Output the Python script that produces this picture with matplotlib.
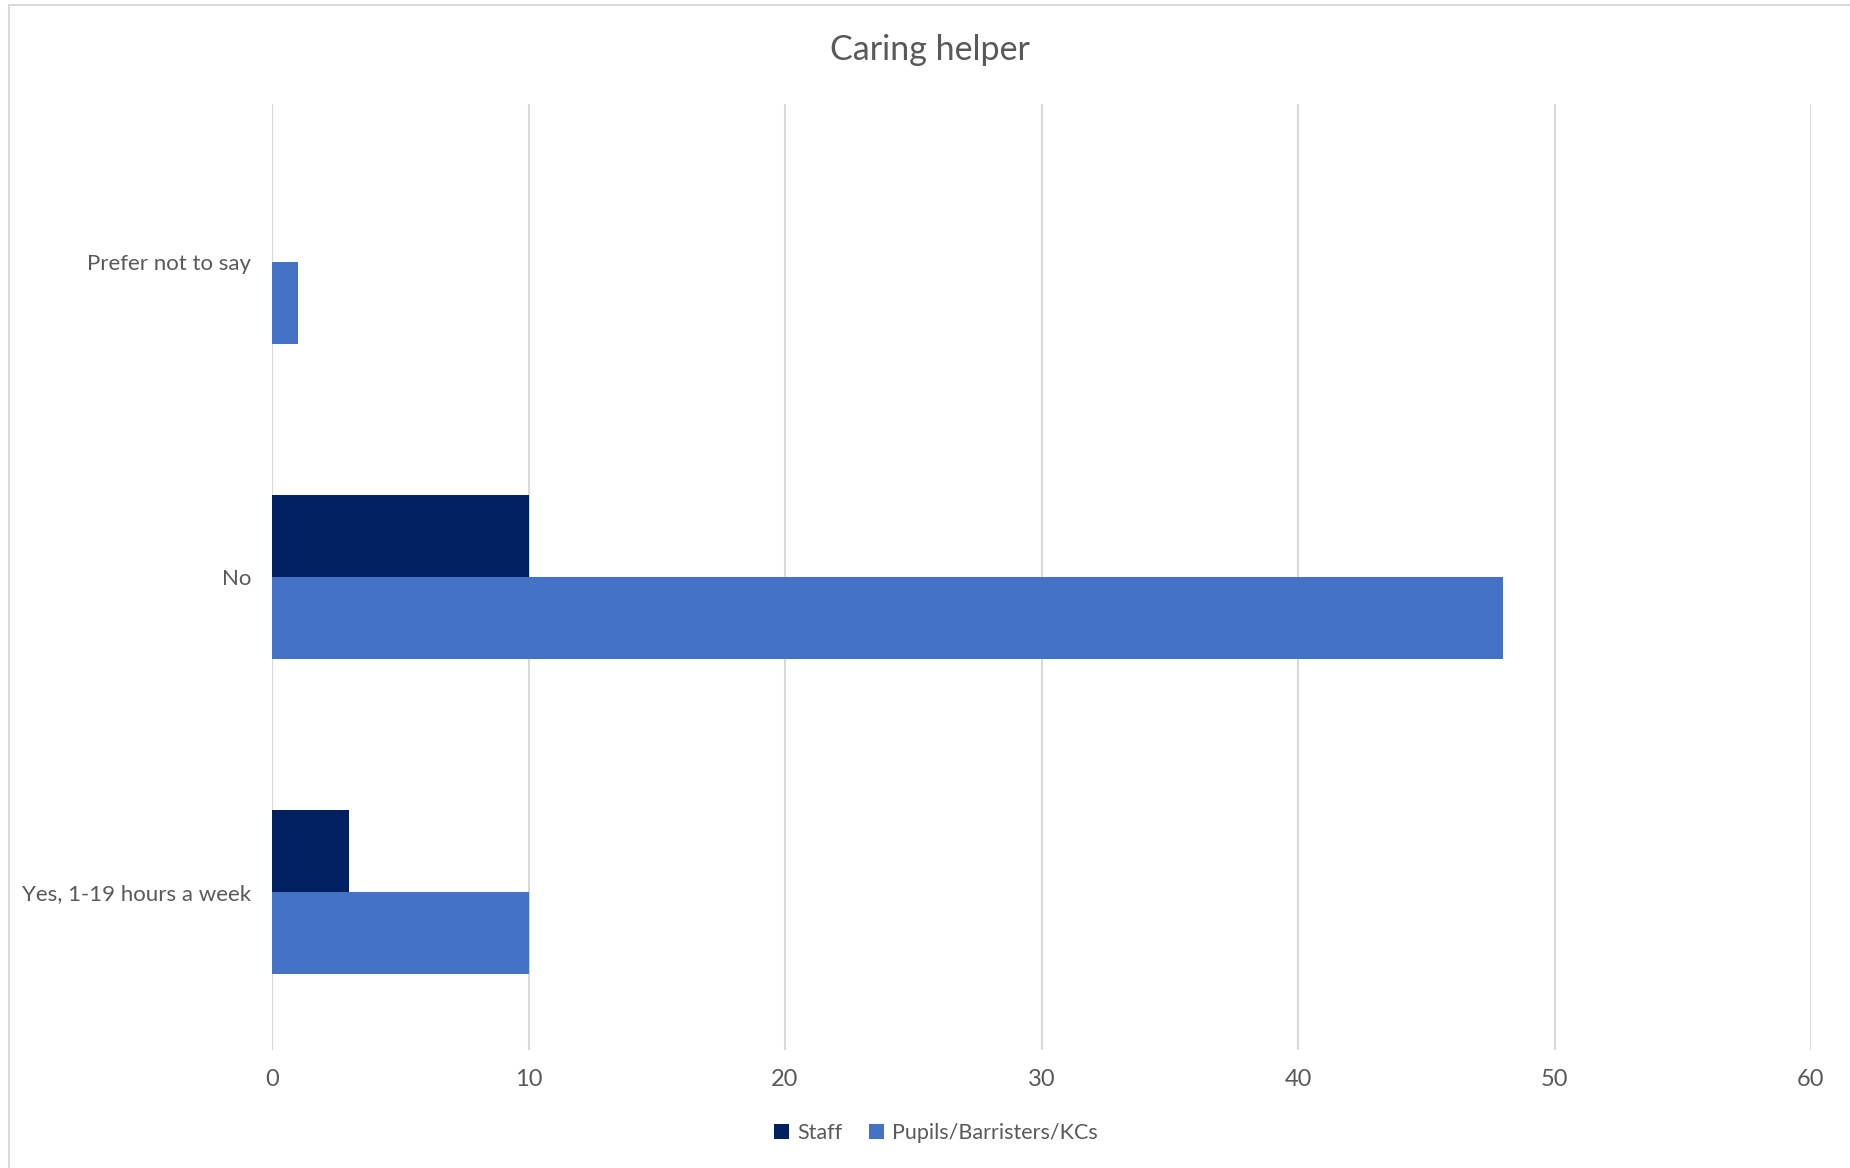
import matplotlib.pyplot as plt
import numpy as np
from matplotlib.patches import Rectangle

categories = ["Yes, 1-19 hours a week", "No", "Prefer not to say"]
staff = [3, 10, 0]
pupils = [10, 48, 1]
series_names = ["Staff", "Pupils/Barristers/KCs"]

c_staff = "#002060"
c_pupils = "#4472C4"
txt = "#595959"

plt.rcParams["font.family"] = ["Lato", "DejaVu Sans"]

fig = plt.figure(figsize=(18.5, 11.68), dpi=100)
ax = fig.add_axes([272 / 1850, 1 - 1050 / 1168, (1811 - 272) / 1850, (1050 - 104) / 1168])

y = np.arange(len(categories))
h = 0.26
ax.barh(y + h / 2, staff, height=h, color=c_staff, label=series_names[0])
ax.barh(y - h / 2, pupils, height=h, color=c_pupils, label=series_names[1])

ax.set_xlim(0, 60)
ax.set_ylim(-0.5, len(categories) - 0.5)
ax.set_xticks(np.arange(0, 61, 10))
ax.set_yticks(y)
ax.set_yticklabels(categories)
ax.tick_params(axis="x", length=0, labelsize=17, colors=txt, pad=14)
ax.tick_params(axis="y", length=0, labelsize=16, colors=txt, pad=15)
ax.grid(axis="x", color="#D9D9D9", linewidth=1.5)
ax.set_axisbelow(True)
for s in ax.spines.values():
    s.set_visible(False)

fig.text(930 / 1850, 1 - 50 / 1168, "Caring helper", ha="center", va="center",
         fontsize=24.5, color=txt)

handles, labels = ax.get_legend_handles_labels()
fig.legend(handles, labels, loc="center", bbox_to_anchor=(936 / 1850, 1 - 1133 / 1168),
           ncol=2, frameon=False, fontsize=15.5, labelcolor=txt,
           handlelength=0.7, handleheight=0.7, handletextpad=0.4, columnspacing=1.2)

# chart area border
fig.patches.append(Rectangle((9 / 1850, -0.01), 1.0, 1 - 5 / 1168 + 0.01,
                             transform=fig.transFigure, fill=False,
                             edgecolor="#D9D9D9", linewidth=1.5))

fig.savefig("out.png", dpi=100)
